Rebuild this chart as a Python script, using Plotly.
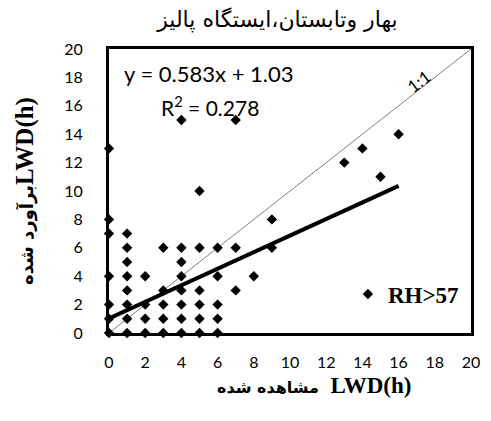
import plotly.graph_objects as go

# Observed (x) and estimated (y) LWD in hours
obs_x = [0, 0, 0, 0, 0, 0, 0,
         1, 1, 1, 1, 1, 1, 1, 1,
         2, 2, 2, 2,
         3, 3, 3, 3, 3,
         4, 4, 4, 4, 4, 4, 4, 4,
         5, 5, 5, 5, 5, 5,
         6, 6, 6, 6, 6,
         7, 7, 7,
         8,
         9, 9,
         13, 14, 15, 16]
est_y = [0, 1, 2, 4, 7, 8, 13,
         0, 1, 2, 3, 4, 5, 6, 7,
         0, 1, 2, 4,
         0, 1, 2, 3, 6,
         0, 1, 2, 3, 4, 5, 6, 15,
         0, 1, 2, 3, 6, 10,
         0, 1, 2, 4, 6,
         3, 6, 15,
         4,
         6, 8,
         12, 13, 11, 14]

slope = 0.583
intercept = 1.03
r2 = 0.278
trend_x = [0, 16]
trend_y = [slope * v + intercept for v in trend_x]
one_x = [0, 20]
one_y = [0, 20]
ticks = list(range(0, 21, 2))

fig = go.Figure()
fig.add_trace(go.Scatter(x=one_x, y=one_y, mode="lines",
                         line=dict(color="#7f7f7f", width=1), showlegend=False,
                         hoverinfo="skip"))
fig.add_trace(go.Scatter(x=trend_x, y=trend_y, mode="lines",
                         line=dict(color="black", width=4), showlegend=False))
fig.add_trace(go.Scatter(x=obs_x, y=est_y, mode="markers", name="<b>RH&gt;57</b>",
                         marker=dict(symbol="diamond", size=8, color="black"),
                         cliponaxis=False))

axis_common = dict(range=[0, 20], tickvals=ticks, showgrid=False, zeroline=False,
                   showline=True, linecolor="black", linewidth=3, mirror=True,
                   ticks="",
                   tickfont=dict(family="Lato", size=16, color="black"))

fig.update_xaxes(**axis_common, ticklabelstandoff=13)
fig.update_yaxes(**axis_common, ticklabelstandoff=20,
                 title=dict(text="<b><span style='font-family:DejaVu Sans;font-size:18px'>برآورد شده</span>LWD(h)</b>",
                            font=dict(family="Liberation Serif", size=25, color="black"),
                            standoff=24))

# x-axis title (placed as annotation to match offset position)
fig.add_annotation(x=0.565, y=-0.185, xref="paper", yref="paper", xanchor="center",
                   yanchor="middle", showarrow=False,
                   text="<b><span style='font-family:DejaVu Sans;font-size:16px'>مشاهده شده</span>  LWD(h)</b>",
                   font=dict(family="Liberation Serif", size=23, color="black"))

fig.add_annotation(x=0.035, y=0.915, xref="paper", yref="paper", xanchor="left",
                   yanchor="middle", showarrow=False,
                   text=f"y = {slope}x + {intercept}",
                   font=dict(family="Lato", size=22, color="black"))
fig.add_annotation(x=0.278, y=0.80, xref="paper", yref="paper", xanchor="center",
                   yanchor="middle", showarrow=False,
                   text=f"R<sup>2</sup> = {r2}",
                   font=dict(family="Lato", size=21, color="black"))
fig.add_annotation(x=17.1, y=17.7, xref="x", yref="y", showarrow=False,
                   text="1:1", textangle=-37,
                   font=dict(family="Lato", size=17, color="black"))

fig.update_layout(
    width=491, height=421,
    margin=dict(l=109, r=11, t=49, b=88),
    paper_bgcolor="white", plot_bgcolor="white",
    title=dict(text="بهار وتابستان،ایستگاه پالیز", x=0.565, xanchor="center",
               y=0.955, yanchor="middle",
               font=dict(family="DejaVu Sans", size=22, color="black")),
    showlegend=True,
    legend=dict(x=0.66, y=0.137, xanchor="left", yanchor="middle",
                bgcolor="rgba(0,0,0,0)", tracegroupgap=0,
                font=dict(family="Liberation Serif", size=23, color="black"),
                itemwidth=30),
)

fig.write_html("out.html")
